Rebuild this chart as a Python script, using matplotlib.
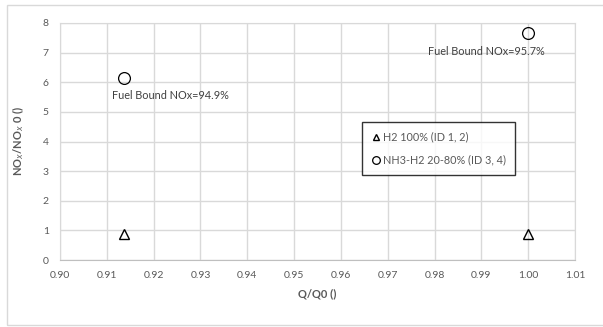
import numpy as np
import matplotlib
matplotlib.use('Agg')
import matplotlib.pyplot as plt
from matplotlib.patches import Rectangle

plt.rcParams['font.family'] = ['Lato', 'DejaVu Sans']

# flow ratio vs normalised NOx
q_h2 = [0.9137, 1.00]
nox_h2 = [0.87, 0.87]
q_nh3 = [0.9137, 1.00]
nox_nh3 = [6.15, 7.65]
fb_labels = ['Fuel Bound NOx=94.9%', 'Fuel Bound NOx=95.7%']

xticks = np.arange(0.90, 1.0101, 0.01)
yticks = np.arange(0, 9, 1)

grey = '#595959'
gridc = '#d9d9d9'

fig = plt.figure(figsize=(6.03, 3.27), dpi=100)
fig.patches.append(Rectangle((7/603, 1-325/327), 1, 320/327, transform=fig.transFigure,
                             fill=False, edgecolor=gridc, lw=1.0))
ax = fig.add_axes([60/603, 1-260/327, 515/603, 237/327])

ax.plot(q_h2, nox_h2, ls='', marker='^', ms=7, mfc='none', mec='black', mew=1.0,
        label='H2 100% (ID 1, 2)')
ax.plot(q_nh3, nox_nh3, ls='', marker='o', ms=8.5, mfc='none', mec='black', mew=0.9,
        label='NH3-H2 20-80% (ID 3, 4)')

# fuel bound NOx labels under the circles
ax.text(q_nh3[0] - 0.0025, nox_nh3[0] - 0.6, fb_labels[0], fontsize=7.8, color='#404040',
        ha='left', va='center')
ax.text(q_nh3[1] + 0.0035, nox_nh3[1] - 0.6, fb_labels[1], fontsize=7.8, color='#404040',
        ha='right', va='center')

ax.set_xlim(0.90, 1.01)
ax.set_ylim(0, 8)
ax.set_xticks(xticks)
ax.set_xticklabels(['%.2f' % v for v in xticks])
ax.set_yticks(yticks)
ax.tick_params(length=0, labelsize=7.5, colors=grey, pad=8)
ax.grid(True, color=gridc, lw=1.0)
ax.set_axisbelow(True)
for s in ax.spines.values():
    s.set_color(gridc)
ax.spines['bottom'].set_color('#bfbfbf')

ax.set_xlabel('Q/Q0 ()', fontsize=8, color=grey, fontweight='bold', labelpad=6)
ax.set_ylabel('NO$_x$/NO$_x$ 0 ()', fontsize=8, color=grey, fontweight='bold', labelpad=12)

leg = ax.legend(loc='upper left', bbox_to_anchor=((362-60)/515, (260-122)/237),
                fontsize=7.8, frameon=True, fancybox=False, edgecolor='black',
                handlelength=0.7, handletextpad=0.3, borderpad=0.9, labelspacing=1.1,
                markerscale=0.65, borderaxespad=0)
leg.get_frame().set_linewidth(1.0)
for t in leg.get_texts():
    t.set_color(grey)

fig.savefig('out.png', dpi=100)
